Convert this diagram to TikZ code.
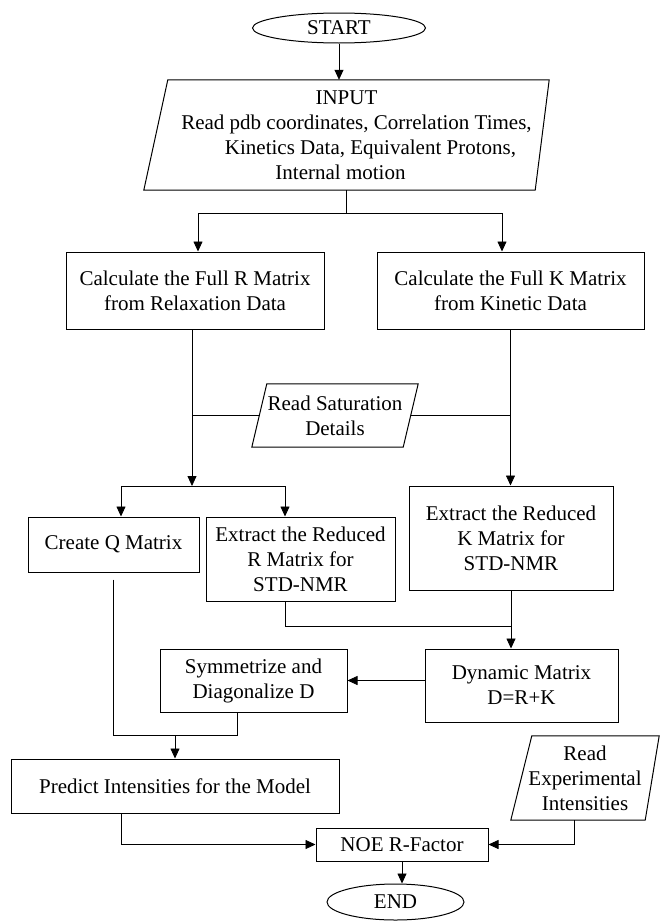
\documentclass[tikz,border=0pt]{standalone}
\usepackage{fontspec}
\setmainfont{Liberation Serif}
\usetikzlibrary{shapes.geometric,arrows.meta,calc}
\begin{document}
\begin{tikzpicture}[x=1pt,y=-1pt,
  every node/.style={font=\fontsize{21}{25}\selectfont},
  box/.style={draw, line width=1pt, align=center, inner sep=0pt},
  io/.style={align=center, inner sep=0pt},
  term/.style={draw, ellipse, line width=1pt, inner sep=0pt},
  conn/.style={line width=0.8pt},
  arr/.style={conn, -{Triangle[length=10pt,width=9pt]}},
  para/.style={line width=1pt}]
\fill[white] (0,0) rectangle (660,921);
\useasboundingbox (0,0) rectangle (660,921);

% nodes
\node[term, minimum width=173pt, minimum height=30pt] (start) at (339,28) {START};
\node[io, minimum width=405pt, minimum height=110pt] (inp) at (346.5,135)
  {INPUT\\\hspace*{20pt}Read pdb coordinates, Correlation Times,\\\hspace*{48pt}Kinetics Data, Equivalent Protons,\\Internal motion\hspace*{12pt}};
\draw[para] ([xshift=24pt]inp.north west) -- (inp.north east) -- ([xshift=-14pt]inp.south east) -- (inp.south west) -- cycle;

\node[box, minimum width=258pt, minimum height=77pt] (boxr) at (195,290.5) {Calculate the Full R Matrix\\from Relaxation Data};
\node[box, minimum width=267pt, minimum height=77pt] (boxk) at (510.5,290.5) {Calculate the Full K Matrix\\from Kinetic Data};

\node[io, minimum width=166pt, minimum height=63pt] (sat) at (335,415.5) {Read Saturation\\Details};
\draw[para] ([xshift=15pt]sat.north west) -- (sat.north east) -- ([xshift=-15pt]sat.south east) -- (sat.south west) -- cycle;

\node[box, minimum width=171pt, minimum height=55pt] (createq) at (113.5,544.5) {Create Q Matrix};
\node[box, minimum width=189pt, minimum height=84pt] (extr) at (300.5,559) {Extract the Reduced\\R Matrix for\\STD-NMR};
\node[box, minimum width=204pt, minimum height=104pt] (extk) at (511,538) {Extract the Reduced\\K Matrix for\\STD-NMR};

\node[box, minimum width=187pt, minimum height=63pt] (sym) at (253.5,680.5) {Symmetrize and\\Diagonalize D};
\node[box, minimum width=193pt, minimum height=73pt] (dyn) at (521.5,685.5) {Dynamic Matrix\\D=R+K};

\node[box, minimum width=328pt, minimum height=54pt] (pred) at (175,786) {Predict Intensities for the Model};
\node[io, minimum width=148pt, minimum height=84pt] (rexp) at (585,778) {Read\\Experimental\\Intensities};
\draw[para] ([xshift=21pt]rexp.north west) -- (rexp.north east) -- ([xshift=-14pt]rexp.south east) -- (rexp.south west) -- cycle;

\node[box, minimum width=172pt, minimum height=33pt] (noe) at (402,844.5) {NOE R-Factor};
\node[term, minimum width=137pt, minimum height=36pt] (end) at (395.5,902) {END};

% junction coordinates
\coordinate (s1) at (346.5,213);
\coordinate (s1l) at (198,213);
\coordinate (s1r) at (502,213);
\coordinate (s2) at (192,486);
\coordinate (s2l) at (121,486);
\coordinate (s2r) at (285,486);
\coordinate (j1) at (511,626);
\coordinate (j2l) at (113.5,735);
\coordinate (j2r) at (237,735);
\coordinate (j2m) at (175,735);
\coordinate (pl) at (121,813);
\coordinate (rl) at (574,820);

% connectors
\draw[arr] (start.south) -- (start.south |- inp.north);
\draw[conn] (inp.south) -- (s1);
\draw[conn] (s1l) -- (s1r);
\draw[arr] (s1l) -- (s1l |- boxr.north);
\draw[arr] (s1r) -- (s1r |- boxk.north);

\draw[arr] (boxr.south -| s2) -- (s2);
\draw[conn] (s2l) -- (s2r);
\draw[arr] (s2l) -- (s2l |- createq.north);
\draw[arr] (s2r) -- (s2r |- extr.north);

\draw[conn] (sat.west -| s2) -- ($(sat.south west)!0.5!([xshift=15pt]sat.north west)$);
\draw[conn] ($(sat.north east)!0.5!([xshift=-15pt]sat.south east)$) -- (sat.east -| boxk.south);

\draw[arr] (boxk.south) -- (boxk.south |- extk.north);

\draw[conn] (extr.south -| s2r) |- (j1);
\draw[arr] (extk.south) -- (extk.south |- dyn.north);

\draw[arr] (dyn.west |- sym.east) -- (sym.east);

\draw[conn] ([yshift=-7pt]createq.south) -- (j2l) -- (j2r) -- (j2r |- sym.south);
\draw[arr] (j2m) -- (pred.north);

\draw[arr] (pred.south -| pl) |- (noe.west);
\draw[arr] (rexp.south -| rl) |- (noe.east);
\draw[arr] (noe.south) -- (noe.south |- end.north);
\end{tikzpicture}
\end{document}
